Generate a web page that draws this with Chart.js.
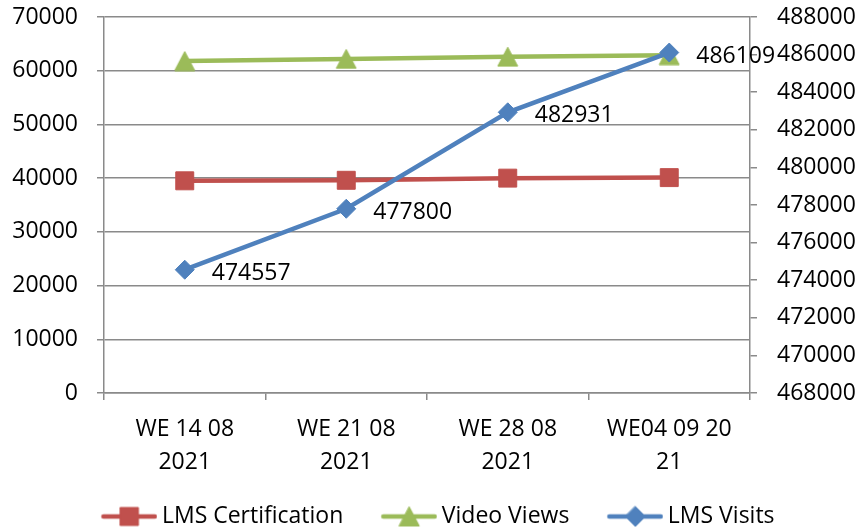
<!DOCTYPE html>
<html><head><meta charset="utf-8">
<script src="https://cdn.jsdelivr.net/npm/chart.js@4.4.0/dist/chart.umd.min.js"></script>
<style>html,body{margin:0;padding:0;background:#fff;overflow:hidden}#wrap{width:860px;height:527px}</style>
</head><body><div id="wrap"><canvas id="c" width="860" height="527"></canvas></div>
<script>
// ---- data ----
const categories = [["WE 14 08", "2021"], ["WE 21 08", "2021"], ["WE 28 08", "2021"], ["WE04 09 20", "21"]];
const seriesNames = ["LMS Certification", "Video Views", "LMS Visits"];
const lmsCertification = [39500, 39600, 40000, 40100];
const videoViews = [61800, 62200, 62600, 62900];
const lmsVisits = [474557, 477800, 482931, 486109];
const leftAxisRange = [0, 70000, 10000];
const rightAxisRange = [468000, 488000, 2000];

// ---- styles ----
const RED = '#C0504D', GREEN = '#9BBB59', BLUE = '#4F81BD', GRID = '#8a8a8a';
const FONT = "'Open Sans', 'Liberation Sans', sans-serif";
Chart.defaults.font.family = FONT;
Chart.defaults.font.size = 23;
Chart.defaults.color = '#000';

const LEG_BOX = 65, LEG_PAD = 22;

function drawShape(ctx, shape, x, y, color) {
  ctx.fillStyle = color; ctx.strokeStyle = color; ctx.lineWidth = 1;
  ctx.beginPath();
  if (shape === 'square') { ctx.rect(x - 9, y - 9, 18, 18); }
  else if (shape === 'triangle') { ctx.moveTo(x, y - 9.5); ctx.lineTo(x + 10, y + 9.5); ctx.lineTo(x - 10, y + 9.5); ctx.closePath(); }
  else { ctx.moveTo(x, y - 10); ctx.lineTo(x + 10, y); ctx.lineTo(x, y + 10); ctx.lineTo(x - 10, y); ctx.closePath(); }
  ctx.fill(); ctx.stroke();
}
function triangleImage(color) {
  const c = document.createElement('canvas'); c.width = 22; c.height = 21;
  drawShape(c.getContext('2d'), 'triangle', 11, 10.5, color);
  return c;
}
function legendIcon(color, shape) {
  const W = LEG_BOX + 14;
  const c = document.createElement('canvas'); c.width = W; c.height = 24;
  const ctx = c.getContext('2d');
  ctx.strokeStyle = color; ctx.lineWidth = 4.5; ctx.lineCap = 'round';
  ctx.beginPath(); ctx.moveTo(W - 54, 12); ctx.lineTo(W - 2.5, 12); ctx.stroke();
  drawShape(ctx, shape, W - 28, 12, color);
  return c;
}
const legendIcons = [legendIcon(RED, 'square'), legendIcon(GREEN, 'triangle'), legendIcon(BLUE, 'diamond')];

const valueLabels = {
  id: 'valueLabels',
  afterDatasetsDraw(chart) {
    const idx = 2;
    const meta = chart.getDatasetMeta(idx);
    const ctx = chart.ctx;
    ctx.save();
    ctx.font = "23px " + FONT; ctx.fillStyle = '#000';
    ctx.textAlign = 'left'; ctx.textBaseline = 'middle';
    meta.data.forEach((pt, i) => ctx.fillText(String(chart.data.datasets[idx].data[i]), pt.x + 27, pt.y + 3.5));
    ctx.restore();
  }
};

const plain = v => String(v);

new Chart(document.getElementById('c'), {
  type: 'line',
  data: {
    labels: categories,
    datasets: [
      { label: seriesNames[0], data: lmsCertification, yAxisID: 'y', borderColor: RED, backgroundColor: RED,
        borderWidth: 4.5, pointStyle: 'rect', pointRadius: 12.7, pointHoverRadius: 12.7, pointBorderWidth: 1, pointBorderColor: RED, tension: 0, order: 2 },
      { label: seriesNames[1], data: videoViews, yAxisID: 'y', borderColor: GREEN, backgroundColor: GREEN,
        borderWidth: 4.5, pointStyle: triangleImage(GREEN), pointRadius: 11, tension: 0, order: 1 },
      { label: seriesNames[2], data: lmsVisits, yAxisID: 'y1', borderColor: BLUE, backgroundColor: BLUE,
        borderWidth: 4.5, pointStyle: 'rectRot', pointRadius: 9.5, pointHoverRadius: 9.5, pointBorderWidth: 1, pointBorderColor: BLUE, tension: 0, order: 0 }
    ]
  },
  options: {
    responsive: false, animation: false,
    layout: { padding: { top: 17, left: 0, right: 0, bottom: -11 } },
    scales: {
      x: {
        type: 'category', offset: true,
        grid: { offset: true, drawOnChartArea: false, drawTicks: true, tickLength: 7, color: GRID, lineWidth: 1.5 },
        border: { display: true, color: GRID, width: 1.5 },
        ticks: { padding: 13, maxRotation: 0, autoSkip: false, font: { size: 23, lineHeight: 33 / 23 } },
        afterFit: s => { s.height = 90; }
      },
      y: {
        position: 'left', min: leftAxisRange[0], max: leftAxisRange[1],
        ticks: { stepSize: leftAxisRange[2], padding: 19, callback: plain },
        grid: { color: GRID, lineWidth: 1.5, tickLength: 7, drawTicks: true },
        border: { display: true, color: GRID, width: 1.5 },
        afterFit: s => { s.width = 104; s.paddingTop = 0; s.paddingBottom = 0; }
      },
      y1: {
        position: 'right', min: rightAxisRange[0], max: rightAxisRange[1],
        ticks: { stepSize: rightAxisRange[2], padding: 20, callback: plain },
        grid: { drawOnChartArea: false, color: GRID, lineWidth: 1.5, tickLength: 7, drawTicks: true },
        border: { display: true, color: GRID, width: 1.5 },
        afterFit: s => { s.width = 110; s.paddingTop = 0; s.paddingBottom = 0; }
      }
    },
    plugins: {
      tooltip: { enabled: false },
      legend: {
        position: 'bottom',
        labels: {
          usePointStyle: true, pointStyleWidth: LEG_BOX, padding: LEG_PAD, color: '#000', font: { size: 23 },
          sort: (a, b) => a.datasetIndex - b.datasetIndex,
          generateLabels(chart) {
            const items = Chart.defaults.plugins.legend.labels.generateLabels(chart);
            items.forEach(it => { it.pointStyle = legendIcons[it.datasetIndex]; });
            return items;
          }
        }
      }
    }
  },
  plugins: [valueLabels]
});
</script></body></html>
